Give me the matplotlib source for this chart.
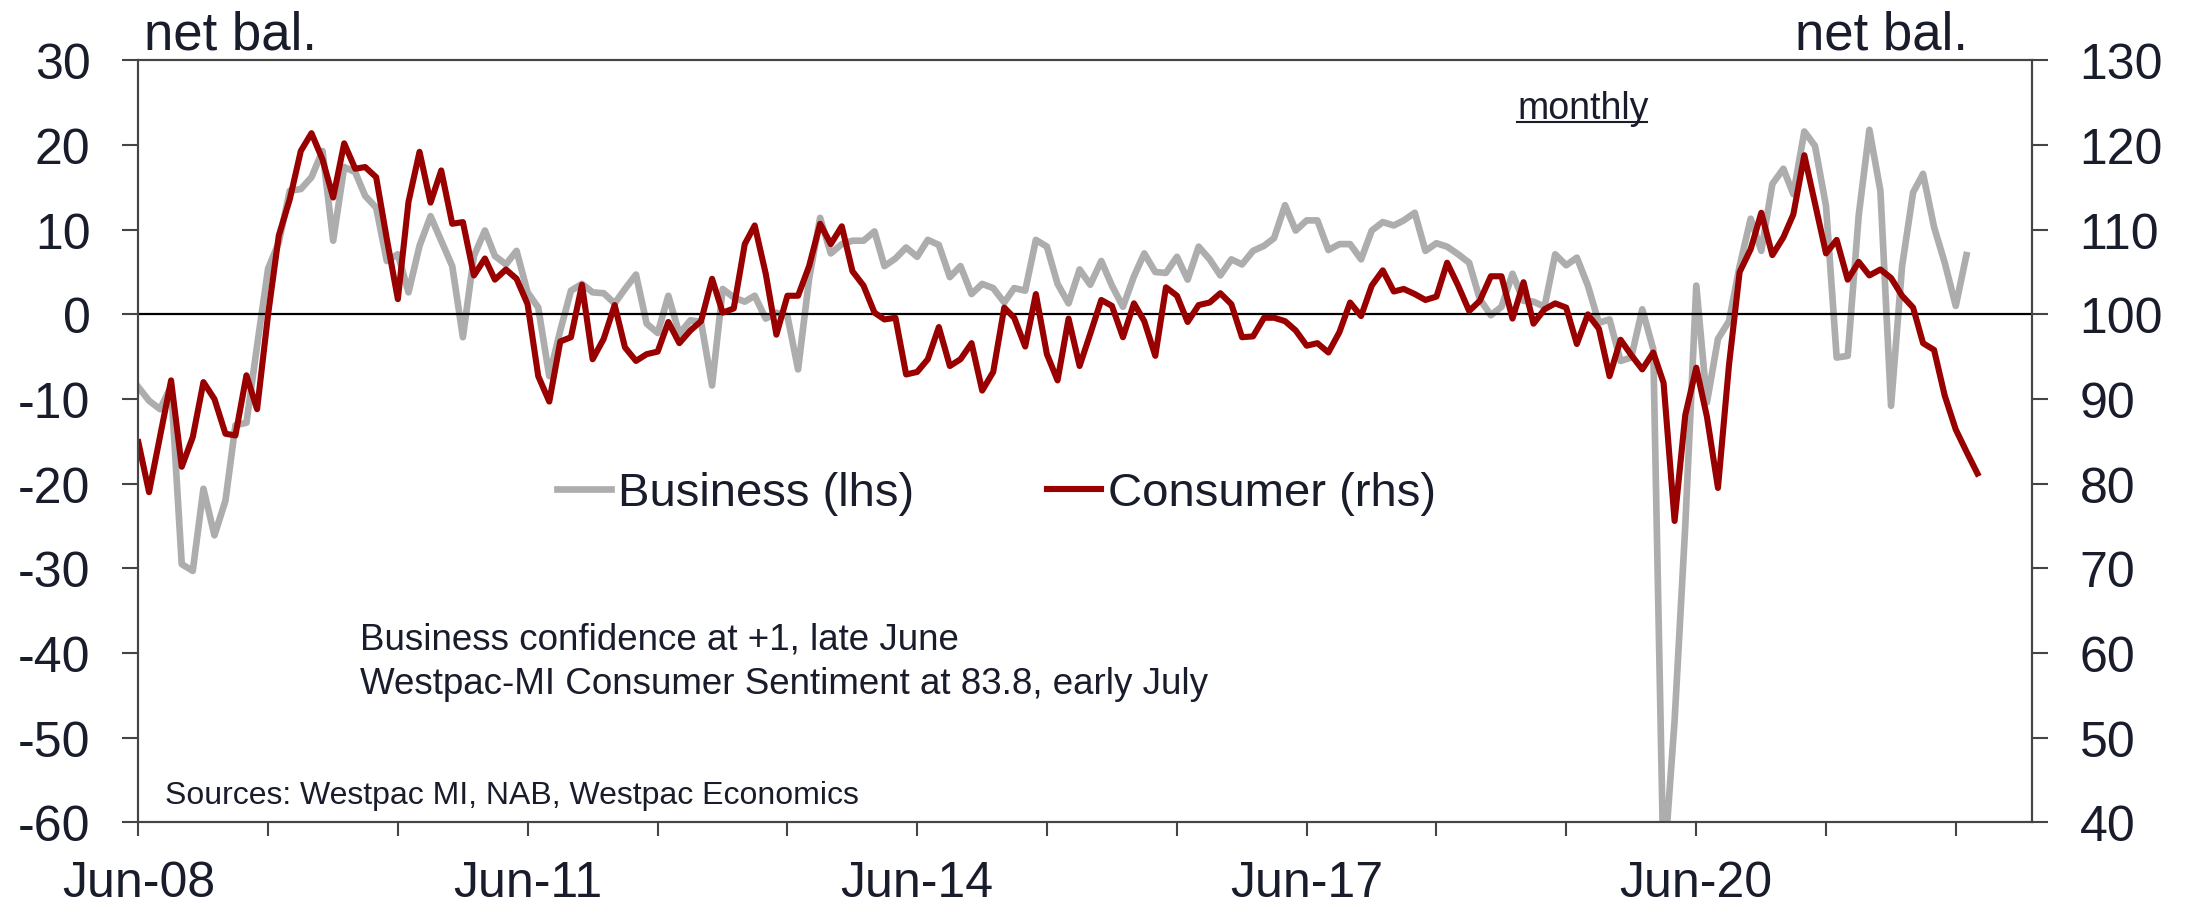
import pandas as pd
import matplotlib
matplotlib.use('Agg')
import matplotlib.pyplot as plt
from matplotlib.lines import Line2D

plt.rcParams['font.family'] = ['Liberation Sans', 'DejaVu Sans']
plt.rcParams['axes.unicode_minus'] = False

# NAB business confidence, net balance (lhs), monthly from Jun-08
business = [
    -8.6, -10.2, -11.2, -8.5, -29.5, -30.3, -20.6, -26.1, -22.0, -13.1, -12.8, -3.7,
    5.4, 8.5, 14.6, 14.8, 16.2, 19.3, 8.7, 17.4, 16.8, 14.0, 12.6, 6.3,
    7.1, 2.6, 8.1, 11.6, 8.7, 5.7, -2.7, 6.9, 9.9, 6.9, 5.9, 7.5,
    2.6, 0.8, -7.3, -1.9, 2.8, 3.6, 2.6, 2.5, 1.3, 3.0, 4.7, -1.1,
    -2.2, 2.2, -2.3, -0.7, -0.9, -8.4, 3.0, 2.0, 1.5, 2.2, -0.5, 0.2,
    -0.2, -6.5, 4.2, 11.4, 7.2, 8.3, 8.7, 8.7, 9.8, 5.7, 6.6, 7.9,
    6.8, 8.8, 8.2, 4.4, 5.7, 2.4, 3.6, 3.1, 1.4, 3.1, 2.8, 8.8,
    8.0, 3.6, 1.3, 5.3, 3.5, 6.3, 3.4, 0.9, 4.5, 7.2, 5.0, 4.9,
    6.8, 4.1, 8.0, 6.5, 4.6, 6.5, 5.9, 7.5, 8.1, 9.0, 12.9, 9.9,
    11.1, 11.1, 7.6, 8.3, 8.3, 6.5, 9.9, 10.9, 10.5, 11.1, 12.0, 7.5,
    8.4, 8.0, 7.1, 6.1, 1.8, -0.1, 0.9, 4.8, 1.6, 1.5, 0.9, 7.1,
    5.8, 6.7, 3.4, -1.0, -0.6, -5.5, -5.1, 0.6, -4.1, -66.0, -48.0, -25.0,
    3.4, -10.4, -2.9, -0.8, 5.7, 11.3, 7.5, 15.4, 17.2, 14.2, 21.6, 19.9,
    12.8, -5.1, -4.9, 11.7, 21.8, 14.6, -10.8, 5.7, 14.4, 16.6, 10.3, 6.1,
    1.0, 7.0,
]

# Westpac-MI consumer sentiment index (rhs), monthly from Jun-08
consumer = [
    84.9, 79.0, 85.6, 92.2, 82.0, 85.5, 92.0, 90.0, 85.9, 85.7, 92.8, 88.8,
    100.0, 109.3, 113.6, 119.3, 121.4, 118.3, 113.8, 120.2, 117.2, 117.4, 116.2, 108.9,
    101.8, 113.3, 119.2, 113.2, 117.0, 110.7, 110.9, 104.6, 106.6, 104.1, 105.3, 104.2,
    101.2, 92.7, 89.7, 96.8, 97.3, 103.5, 94.7, 97.1, 101.1, 96.1, 94.5, 95.3,
    95.6, 99.1, 96.6, 98.1, 99.2, 104.2, 100.2, 100.7, 108.3, 110.5, 104.8, 97.6,
    102.2, 102.2, 105.7, 110.7, 108.3, 110.4, 105.1, 103.4, 100.2, 99.4, 99.6, 92.9,
    93.2, 94.7, 98.5, 93.9, 94.7, 96.6, 91.0, 93.2, 100.8, 99.6, 96.2, 102.4,
    95.3, 92.2, 99.5, 93.9, 97.7, 101.7, 101.0, 97.3, 101.3, 99.2, 95.1, 103.2,
    102.2, 99.1, 101.1, 101.4, 102.5, 101.2, 97.3, 97.4, 99.6, 99.6, 99.2, 98.1,
    96.3, 96.6, 95.5, 97.9, 101.4, 99.8, 103.4, 105.2, 102.7, 103.0, 102.4, 101.7,
    102.1, 106.1, 103.4, 100.4, 101.6, 104.5, 104.5, 99.5, 103.8, 98.9, 100.6, 101.3,
    100.8, 96.5, 100.0, 98.3, 92.7, 97.0, 95.2, 93.5, 95.5, 91.9, 75.6, 88.1,
    93.7, 87.9, 79.5, 94.0, 105.0, 107.7, 112.0, 107.0, 109.1, 111.8, 118.8, 113.1,
    107.2, 108.8, 104.1, 106.2, 104.6, 105.3, 104.3, 102.2, 100.8, 96.6, 95.8, 90.4,
    86.4, 83.8, 81.2,
]

start = '2008-06-01'
year_ticks = pd.date_range(start, '2022-06-01', freq='12MS')
labelled_years = [2008, 2011, 2014, 2017, 2020]

txt = '#191c2b'
grey = '#adadad'
red = '#990000'
spine_col = '#454545'

b_dates = pd.date_range(start, periods=len(business), freq='MS')
c_dates = pd.date_range(start, periods=len(consumer), freq='MS')

fig = plt.figure(figsize=(21.93, 9.12), dpi=100)
ax = fig.add_axes([0.0631, 0.0972, 0.8634, 0.8355])
ax2 = ax.twinx()

ax.plot(b_dates, business, color=grey, lw=4.8, zorder=2)
ax.axhline(0, color='black', lw=1.6, zorder=3)
ax2.plot(c_dates, consumer, color=red, lw=4.4, zorder=2)

ax.set_xlim(pd.Timestamp(start), pd.Timestamp('2023-01-01'))
ax.set_ylim(-60, 30)
ax2.set_ylim(40, 130)
ax.set_yticks(range(-60, 31, 10))
ax2.set_yticks(range(40, 131, 10))
ax.set_xticks(year_ticks)
ax.set_xticklabels([d.strftime('%b-%y') if d.year in labelled_years else ''
                    for d in year_ticks])

for a in (ax, ax2):
    for s in a.spines.values():
        s.set_color(spine_col)
        s.set_linewidth(1.5)

ax.tick_params(axis='y', direction='out', length=11.5, width=1.5, pad=23,
               labelsize=36, color=spine_col, labelcolor=txt)
ax.tick_params(axis='x', direction='out', length=10, width=1.5, pad=17,
               labelsize=36, color=spine_col, labelcolor=txt)
ax2.tick_params(axis='y', direction='out', length=11.5, width=1.5, pad=23,
                labelsize=36, color=spine_col, labelcolor=txt)

fig.text(0.0657, 0.946, 'net bal.', fontsize=38, color=txt, ha='left', va='baseline')
fig.text(0.8974, 0.946, 'net bal.', fontsize=38, color=txt, ha='right', va='baseline')

ax2.text(0.7282, 0.9244, 'monthly', transform=ax2.transAxes, fontsize=27,
         color=txt, va='baseline')
ax2.add_line(Line2D([0.7282, 0.7968], [0.9185, 0.9185], transform=ax2.transAxes,
                    color=txt, lw=1.5))

ax2.text(0.1168, 0.2276, 'Business confidence at +1, late June',
         transform=ax2.transAxes, fontsize=26.5, color=txt, va='baseline')
ax2.text(0.1168, 0.1703, 'Westpac-MI Consumer Sentiment at 83.8, early July',
         transform=ax2.transAxes, fontsize=26.5, color=txt, va='baseline')
ax2.text(0.0141, 0.0255, 'Sources: Westpac MI, NAB, Westpac Economics',
         transform=ax2.transAxes, fontsize=23, color=txt, va='baseline')

handles = [Line2D([], [], color=grey, lw=4.8, label='Business (lhs)'),
           Line2D([], [], color=red, lw=4.4, label='Consumer (rhs)')]
leg = ax2.legend(handles=handles, loc='center left', bbox_to_anchor=(0.2211, 0.432),
                 ncol=2, frameon=False, fontsize=34, handlelength=1.15,
                 handletextpad=0.15, columnspacing=2.8, borderpad=0,
                 borderaxespad=0)
for t in leg.get_texts():
    t.set_color(txt)

fig.savefig('out.png', dpi=100)
